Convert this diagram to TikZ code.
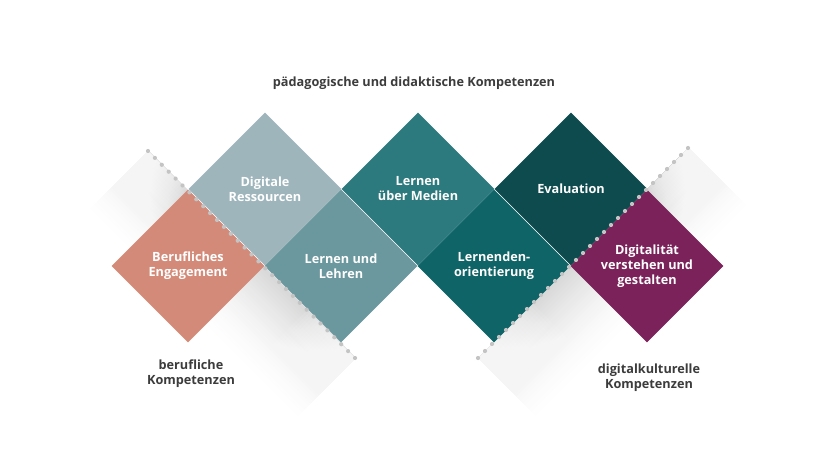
\documentclass[tikz,border=0pt]{standalone}
\usepackage{fontspec}
\setmainfont{Open Sans}
\usetikzlibrary{shapes.geometric,calc}
\definecolor{cBeruf}{HTML}{D48A78}
\definecolor{cDigi}{HTML}{9FB5BC}
\definecolor{cLehr}{HTML}{6B989E}
\definecolor{cMed}{HTML}{2D7A7E}
\definecolor{cLdo}{HTML}{0F6467}
\definecolor{cEval}{HTML}{0E4B4F}
\definecolor{cDgt}{HTML}{7A2259}
\definecolor{cText}{HTML}{3C3C3C}
\definecolor{cDot}{HTML}{C4C4C4}
\newcommand\shfade[4]{%
  \foreach \j in {1,...,23}{
    \coordinate (fp) at ($(#1)!\j/24!(#2)$);
    \fill[white,fill opacity=0.095] (fp) -- (#3) -- ($(#3)+#4$) -- ($(fp)+#4$) -- cycle;
  }}
\begin{document}
\begin{tikzpicture}[x=1pt,y=-1pt,
  dia/.style={diamond,minimum width=153pt,minimum height=153pt,inner sep=0pt,draw=none,
     text=white,font=\bfseries\fontsize{12.7}{15}\selectfont,align=center},
  lbl/.style={text=cText,font=\bfseries\fontsize{12.7}{15}\selectfont,align=center,inner sep=0pt},
  dotc/.style={fill=cDot,draw=none}]
\useasboundingbox (0,0) rectangle (840,473);
\fill[white] (0,0) rectangle (840,473);
% dotted line ends
\coordinate (l0) at (148,151);
\coordinate (l1) at (355,358);
\coordinate (r0) at (688,148);
\coordinate (r1) at (478,358);
% shadows (stepped gradient strips)
\foreach \k in {27,...,0}{
  \pgfmathsetmacro{\c}{15*(1-\k/28)^1.6}
  \pgfmathsetmacro{\d}{(\k+1)*3/sqrt(2)}
  \fill[black!\c] (l0) -- (l1) -- ($(l1)+(-\d,\d)$) -- ($(l0)+(-\d,\d)$) -- cycle;
  \fill[black!\c] (r0) -- (r1) -- ($(r1)+(\d,\d)$) -- ($(r0)+(\d,\d)$) -- cycle;
}
% fade the shadows toward the free ends of the dotted lines
\coordinate (sA) at (188,191);
\coordinate (sAx) at (141,144);
\coordinate (sC) at (305,308);
\coordinate (sCx) at (362,365);
\coordinate (sD) at (647,190);
\coordinate (sDx) at (695,141);
\coordinate (sE) at (535,301);
\coordinate (sEx) at (471,365);
\shfade{sA}{l0}{sAx}{(-62,62)}
\shfade{sC}{l1}{sCx}{(-62,62)}
\shfade{sD}{r0}{sDx}{(62,62)}
\shfade{sE}{r1}{sEx}{(62,62)}
% diamonds
\node[dia,fill=cBeruf] (beruf) at (188,266) {Berufliches\\Engagement};
\node[dia,fill=cDigi]  (digi)  at (265,189) {Digitale\\Ressourcen};
\node[dia,fill=cLehr]  (lehr)  at (341,266) {Lernen und\\Lehren};
\node[dia,fill=cMed]   (med)   at (418,189) {Lernen\\über Medien};
\node[dia,fill=cLdo]   (ldo)   at (494,266) {Lernenden-\\orientierung};
\node[dia,fill=cEval]  (eval)  at (571,189) {Evaluation};
\node[dia,fill=cDgt]   (dgt)   at (647,266) {Digitalität\\verstehen und\\gestalten};
% dotted lines
\foreach \i in {0,...,30}{
  \fill[dotc] ($(l0)!\i/30!(l1)$) circle (2.1);
  \fill[dotc] ($(r0)!\i/30!(r1)$) circle (2.1);
}
% labels
\node[lbl] (title) at (414,83) {pädagogische und didaktische Kompetenzen};
\node[lbl] (berk) at (191,374) {berufliche\\Kompetenzen};
\node[lbl] (digk) at (649,378) {digitalkulturelle\\Kompetenzen};
\end{tikzpicture}
\end{document}
